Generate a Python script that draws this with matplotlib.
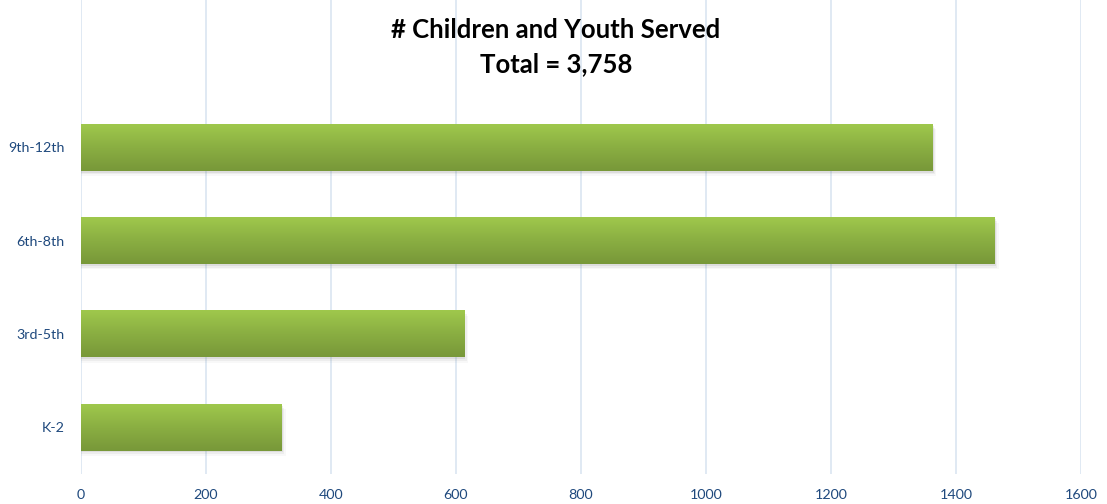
import numpy as np
import matplotlib
matplotlib.use('Agg')
import matplotlib.pyplot as plt
from matplotlib.colors import LinearSegmentedColormap

categories = ["K-2", "3rd-5th", "6th-8th", "9th-12th"]
served = [321, 613, 1462, 1362]
xticks = [0, 200, 400, 600, 800, 1000, 1200, 1400, 1600]
title_lines = ["# Children and Youth Served", "Total = 3,758"]

plt.rcParams['font.family'] = ['Lato', 'DejaVu Sans']

fig = plt.figure(figsize=(11.07, 5.04), dpi=100)
ax = fig.add_axes([81/1107, 30/504, 1000/1107, 474/504])

# vertical gradient, light green on top, darker at bottom
cmap = LinearSegmentedColormap.from_list("grn", ["#789839", "#8aae42", "#9fc84c"])
grad = np.linspace(0, 1, 64).reshape(-1, 1)
h = 0.5
for i, v in enumerate(served):
    # soft shadow
    for k, a in enumerate([0.10, 0.07, 0.04]):
        d = 0.012 * (k + 1)
        ax.add_patch(plt.Rectangle((0, i - h/2 - d*1.6), v + d*180, h, color="#606060",
                                   alpha=a, lw=0, zorder=2))
    ax.imshow(grad, cmap=cmap, aspect='auto', origin='lower',
              extent=(0, v, i - h/2, i + h/2), zorder=3, interpolation='bilinear')

ax.set_xlim(0, 1600)
ax.set_ylim(-0.5, 4.58)
ax.set_xticks(xticks)
ax.set_yticks(range(len(categories)))
ax.set_yticklabels(categories)
ax.grid(axis='x', color="#dae5f1", lw=1.2, zorder=0)
ax.set_axisbelow(True)
for s in ax.spines.values():
    s.set_visible(False)
ax.tick_params(length=0, colors="#1f497d", labelsize=10.3)
ax.tick_params(axis='x', pad=11)
ax.tick_params(axis='y', pad=12)

ax.text(0.475, 1 - 30/474, title_lines[0], transform=ax.transAxes, ha='center', va='center',
        fontsize=18.5, fontweight='bold', color="black")
ax.text(0.475, 1 - 64/474, title_lines[1], transform=ax.transAxes, ha='center', va='center',
        fontsize=18.5, fontweight='bold', color="black")

plt.savefig("out.png", dpi=100)
